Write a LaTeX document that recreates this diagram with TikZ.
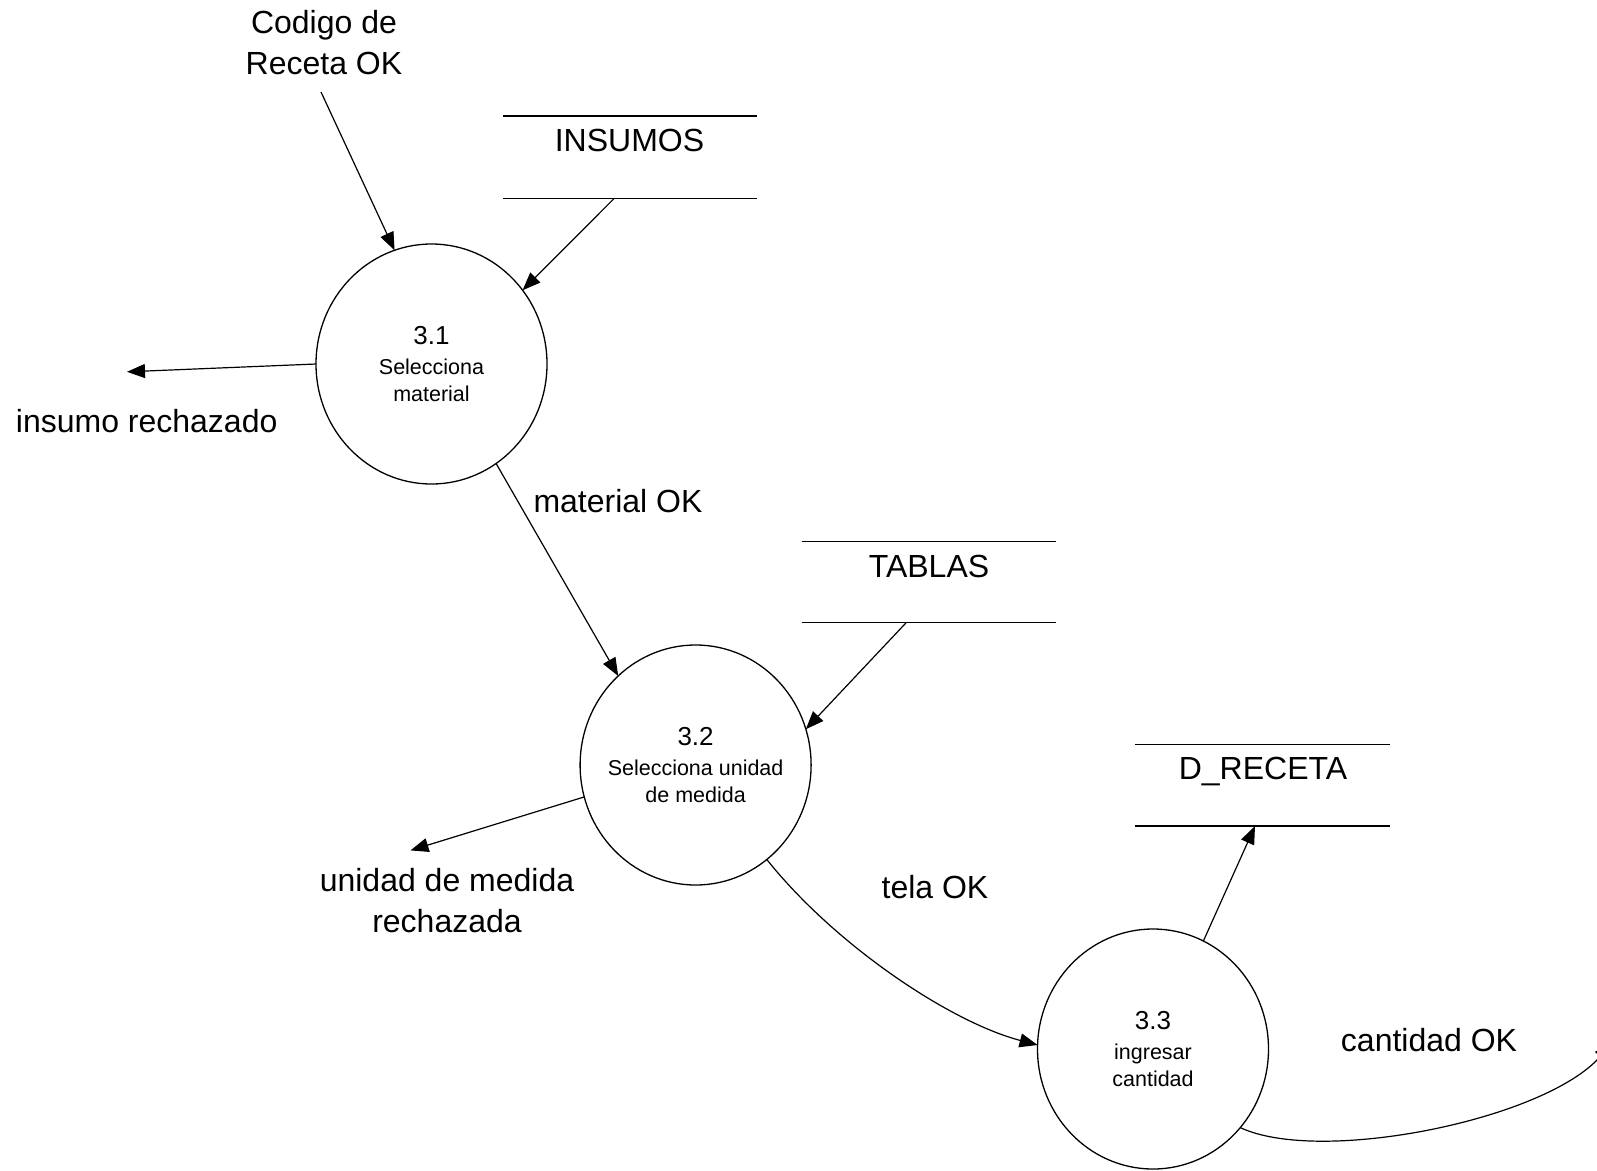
\documentclass[tikz,border=0pt]{standalone}
\usepackage{fontspec}
\setmainfont{Liberation Sans}
\usetikzlibrary{arrows.meta,shapes.geometric}

\begin{document}
\begin{tikzpicture}[x=1pt,y=-1pt,
  flow/.style={line width=1.2pt, -{Triangle[length=18pt,width=14pt]}},
  proctxt/.style={align=center, inner sep=0pt, font=\fontsize{21.5}{27}\selectfont},
  proc/.style={ellipse, draw, line width=1.3pt, inner sep=0pt, outer sep=0pt,
    minimum width=231pt, minimum height=240pt,
    label={[proctxt]center:#1}},
  lbl/.style={font=\fontsize{32}{40.7}\selectfont, align=center, inner sep=0pt},
  storetxt/.style={font=\fontsize{32}{40.7}\selectfont, anchor=base, inner sep=0pt},
  storeline/.style={line width=1.3pt}
]
\useasboundingbox (0,0) rectangle (1597,1170);
\clip (0,0) rectangle (1597,1170);
\fill[white] (0,0) rectangle (1597,1170);

% processes
\node[proc={{\fontsize{26}{27}\selectfont 3.1}\\[3pt]Selecciona\\material}] (c31) at (431.5,364) {};
\node[proc={{\fontsize{26}{27}\selectfont 3.2}\\[3pt]Selecciona unidad\\de medida}] (c32) at (695.6,765) {};
\node[proc={{\fontsize{26}{27}\selectfont 3.3}\\[3pt]ingresar\\cantidad}] (c33) at (1153,1049) {};

% data stores
\node[storetxt] (insumos) at (629.5,151) {INSUMOS};
\draw[storeline] (503,116) -- (757,116);
\draw[storeline] (503,198.6) -- (757,198.6);

\node[storetxt] (tablas) at (929,577.5) {TABLAS};
\draw[storeline] (801.6,541.8) -- (1056,541.8);
\draw[storeline] (801.6,622.3) -- (1056,622.3);

\node[storetxt] (dreceta) at (1263,779.5) {D\_RECETA};
\draw[storeline] (1134.6,744.5) -- (1390,744.5);
\draw[storeline] (1134.6,826) -- (1390,826);

% flow labels
\node[lbl] (cod) at (324,42.6) {Codigo de\\Receta OK};
\node[lbl, anchor=base] (insrech) at (146.7,432.5) {insumo rechazado};
\node[lbl, anchor=base] (matok) at (618,512.5) {material OK};
\node[lbl] (unirech) at (447,900.7) {unidad de medida\\rechazada};
\node[lbl, anchor=base] (telaok) at (935,898.5) {tela OK};
\node[lbl, anchor=base] (cantok) at (1429,1051.5) {cantidad OK};

% free ends of the flows
\coordinate (codStart) at (321,92);
\coordinate (insStart) at (614,198.6);
\coordinate (rejA) at (127,371.8);
\coordinate (tabStart) at (906.5,622.3);
\coordinate (rejB) at (410.5,850.4);
\coordinate (recEnd) at (1255,826);
\coordinate (outEnd) at (1612,1043);

% flows
\draw[flow] (codStart) -- (c31.108);
\draw[flow] (insStart) -- (c31.39);
\draw[flow] (c31.180) -- (rejA);
\draw[flow] (c31.303) -- (c32.131);
\draw[flow] (tabStart) -- (c32.18);
\draw[flow] (c32.196) -- (rejB);
\draw[flow] (c32.307) .. controls (835,945) and (950,1022) .. (c33.178);
\draw[flow] (c33.65) -- (recEnd);
\draw[flow] (c33.318) .. controls (1320,1165) and (1545,1120) .. (outEnd);
\end{tikzpicture}
\end{document}
